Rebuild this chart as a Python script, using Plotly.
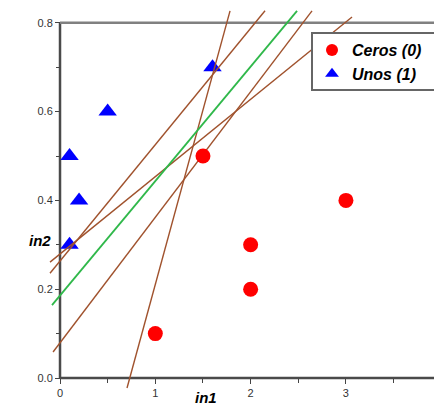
import plotly.graph_objects as go

# Data points
ceros_x = [1.0, 1.5, 2.0, 2.0, 3.0]
ceros_y = [0.1, 0.5, 0.3, 0.2, 0.4]
unos_x = [0.1, 0.2, 0.1, 0.5, 1.6]
unos_y = [0.3, 0.4, 0.5, 0.6, 0.7]

# Separating lines (endpoints)
brown_x0 = [0.703, -0.105, -0.105, -0.073]
brown_y0 = [-0.0225, 0.261, 0.236, 0.0586]
brown_x1 = [1.784, 3.064, 2.151, 2.644]
brown_y1 = [0.827, 0.813, 0.827, 0.827]
green_x = [-0.084, 2.487]
green_y = [0.164, 0.827]

x_ticks = [0, 1, 2, 3]
y_ticks = [0.0, 0.2, 0.4, 0.6, 0.8]
y_tick_text = ["0.0", "0.2", "0.4", "0.6", "0.8"]

XMIN, XMAX = -0.126, 3.924
YMIN, YMAX = -0.0315, 0.8446

fig = go.Figure()

fig.add_trace(go.Scatter(
    x=unos_x, y=unos_y, mode="markers", name="Unos (1)", legendrank=2,
    marker=dict(symbol="triangle-up", size=16, color="#0000ff"),
))

for a, b, c, d in zip(brown_x0, brown_y0, brown_x1, brown_y1):
    fig.add_trace(go.Scatter(
        x=[a, c], y=[b, d], mode="lines", showlegend=False,
        line=dict(color="#a0522d", width=1.4), hoverinfo="skip",
    ))

fig.add_trace(go.Scatter(
    x=green_x, y=green_y, mode="lines", showlegend=False,
    line=dict(color="#2fb84a", width=1.8), hoverinfo="skip",
))

fig.add_trace(go.Scatter(
    x=ceros_x, y=ceros_y, mode="markers", name="Ceros (0)", legendrank=1,
    marker=dict(symbol="circle", size=15, color="#ff0000"),
))

# Axis frame lines
fig.add_shape(type="line", x0=0, y0=0, x1=XMAX, y1=0, xref="x", yref="y",
              line=dict(color="#4a4a4a", width=2.5), layer="below")
fig.add_shape(type="line", x0=0, y0=0, x1=0, y1=0.8, xref="x", yref="y",
              line=dict(color="#4a4a4a", width=2.5), layer="below")
fig.add_shape(type="line", x0=0, y0=0.8, x1=XMAX, y1=0.8, xref="x", yref="y",
              line=dict(color="#808080", width=2.5), layer="below")

# Legend box (extends past the right edge, as in the reference)
fig.add_shape(type="rect", xref="paper", yref="paper",
              x0=(312 - 48) / 386, x1=1.05,
              y0=(392 - 90) / 389, y1=(392 - 33) / 389,
              fillcolor="white", line=dict(color="#666666", width=2), layer="above")

tickfont = dict(family="Liberation Sans, Arial, sans-serif", size=11, color="#333333")

fig.update_layout(
    width=434, height=414,
    margin=dict(l=48, r=0, t=3, b=22),
    plot_bgcolor="white", paper_bgcolor="white",
    xaxis=dict(
        range=[XMIN, XMAX], showgrid=False, zeroline=False, showline=False,
        tickvals=x_ticks, ticks="outside", ticklen=5, tickwidth=1, tickcolor="#444",
        anchor="free", position=(392 - 378) / 389,
        minor=dict(dtick=0.5, tick0=0, ticks="outside", ticklen=4, tickcolor="#444", showgrid=False),
        tickfont=tickfont,
    ),
    yaxis=dict(
        range=[YMIN, YMAX], showgrid=False, zeroline=False, showline=False,
        tickvals=y_ticks, ticktext=y_tick_text, ticks="outside", ticklen=5,
        tickwidth=1, tickcolor="#444",
        anchor="free", position=(60 - 48) / 386,
        minor=dict(dtick=0.1, tick0=0, ticks="outside", ticklen=4, tickcolor="#444", showgrid=False),
        tickfont=tickfont,
    ),
    legend=dict(
        x=(312 - 48) / 386, y=(392 - 33) / 389, xanchor="left", yanchor="top",
        bgcolor="rgba(0,0,0,0)", borderwidth=0,
        font=dict(family="Liberation Sans, Arial, sans-serif", size=16,
                  color="black", weight="bold", style="italic"),
        tracegroupgap=0, itemsizing="constant",
    ),
    annotations=[
        dict(text="<b><i>in1</i></b>", x=1.53, y=-0.041, xref="x", yref="paper",
             showarrow=False, font=dict(family="Liberation Sans, Arial, sans-serif", size=15, color="black")),
        dict(text="<b><i>in2</i></b>", x=-0.054, y=0.31, xref="paper", yref="y",
             showarrow=False, font=dict(family="Liberation Sans, Arial, sans-serif", size=15, color="black")),
    ],
)

fig.write_html("out.html")
